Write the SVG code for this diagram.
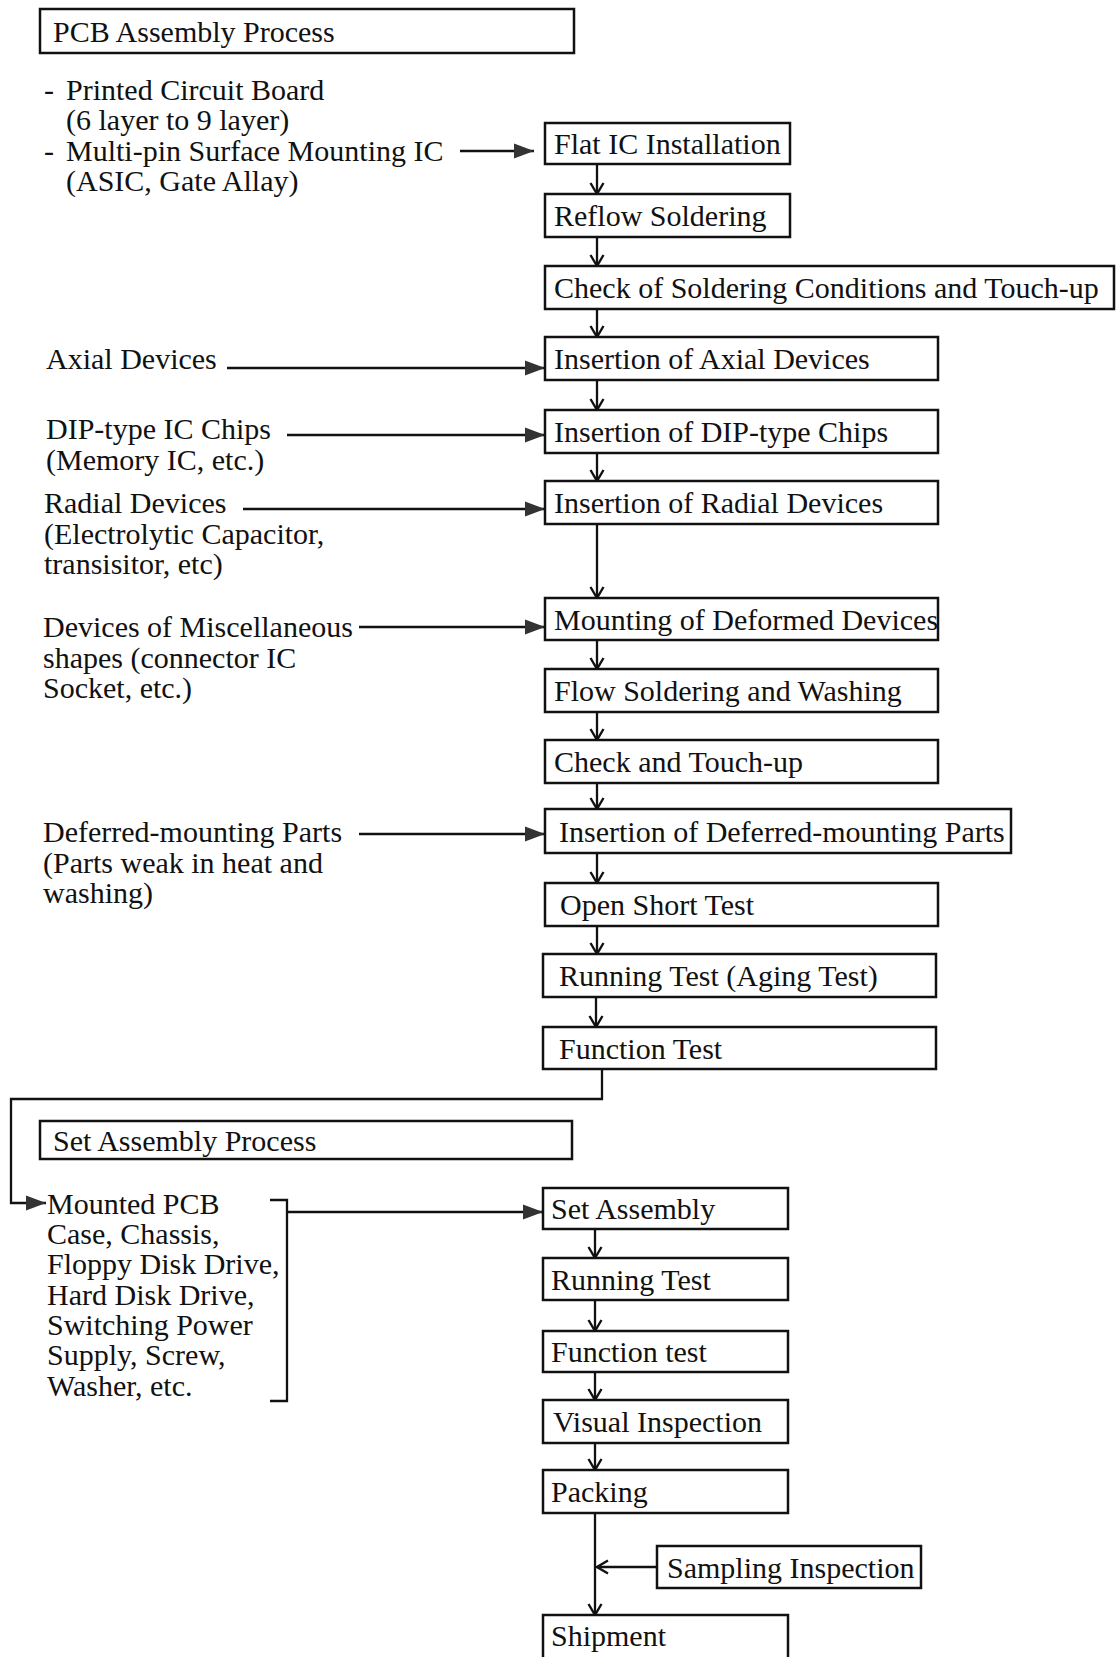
<svg xmlns="http://www.w3.org/2000/svg" width="1118" height="1657" viewBox="0 0 1118 1657">
<defs>
<style>
text{font-family:"Liberation Serif","Times New Roman",serif;font-size:30px;fill:#111}
.box{fill:#fff;stroke:#111;stroke-width:2.5}
.ln{fill:none;stroke:#111;stroke-width:2.3}
</style>
<marker id="tri" markerUnits="userSpaceOnUse" markerWidth="21" markerHeight="17" refX="20" refY="8.5" orient="auto"><path d="M0,1 L20,8.5 L0,16 z" fill="#333"/></marker>
<marker id="vee" markerUnits="userSpaceOnUse" markerWidth="16" markerHeight="16" refX="14" refY="8" orient="auto"><path d="M3,1.5 L14,8 L3,14.5" fill="none" stroke="#111" stroke-width="2.4"/></marker>
</defs>

<g id="connectors">
<!-- inputs -->
<line class="ln" x1="460" y1="151" x2="534" y2="151" marker-end="url(#tri)"/>
<line class="ln" x1="227" y1="368" x2="545" y2="368" marker-end="url(#tri)"/>
<line class="ln" x1="287" y1="435" x2="545" y2="435" marker-end="url(#tri)"/>
<line class="ln" x1="243" y1="509" x2="545" y2="509" marker-end="url(#tri)"/>
<line class="ln" x1="359" y1="627" x2="545" y2="627" marker-end="url(#tri)"/>
<line class="ln" x1="359" y1="834" x2="545" y2="834" marker-end="url(#tri)"/>
<!-- upper spine -->
<line class="ln" x1="597" y1="164" x2="597" y2="194" marker-end="url(#vee)"/>
<line class="ln" x1="597" y1="237" x2="597" y2="266" marker-end="url(#vee)"/>
<line class="ln" x1="597" y1="309" x2="597" y2="337" marker-end="url(#vee)"/>
<line class="ln" x1="597" y1="380" x2="597" y2="410" marker-end="url(#vee)"/>
<line class="ln" x1="597" y1="453" x2="597" y2="481" marker-end="url(#vee)"/>
<line class="ln" x1="597" y1="524" x2="597" y2="598" marker-end="url(#vee)"/>
<line class="ln" x1="597" y1="640" x2="597" y2="669" marker-end="url(#vee)"/>
<line class="ln" x1="597" y1="712" x2="597" y2="740" marker-end="url(#vee)"/>
<line class="ln" x1="597" y1="783" x2="597" y2="809" marker-end="url(#vee)"/>
<line class="ln" x1="597" y1="853" x2="597" y2="883" marker-end="url(#vee)"/>
<line class="ln" x1="597" y1="926" x2="597" y2="954" marker-end="url(#vee)"/>
<line class="ln" x1="596" y1="997" x2="596" y2="1027" marker-end="url(#vee)"/>
<!-- loop to set assembly -->
<path class="ln" d="M602,1069 V1099 H11 V1203 H46" marker-end="url(#tri)"/>
<!-- bracket -->
<path class="ln" d="M270,1200 H287 V1401 H270"/>
<line class="ln" x1="287" y1="1212" x2="543" y2="1212" marker-end="url(#tri)"/>
<!-- lower spine -->
<line class="ln" x1="595" y1="1229" x2="595" y2="1258" marker-end="url(#vee)"/>
<line class="ln" x1="595" y1="1300" x2="595" y2="1331" marker-end="url(#vee)"/>
<line class="ln" x1="595" y1="1372" x2="595" y2="1400" marker-end="url(#vee)"/>
<line class="ln" x1="595" y1="1443" x2="595" y2="1470" marker-end="url(#vee)"/>
<line class="ln" x1="595" y1="1513" x2="595" y2="1615" marker-end="url(#vee)"/>
<line class="ln" x1="657" y1="1567" x2="597" y2="1567" marker-end="url(#vee)"/>
</g>

<g id="pcb-title"><rect class="box" x="40" y="9" width="534" height="44"/><text x="53" y="42">PCB Assembly Process</text></g>

<g id="pcb-inputs">
<text x="44" y="100">-<tspan x="66">Printed Circuit Board</tspan></text>
<text x="66" y="130">(6 layer to 9 layer)</text>
<text x="44" y="161">-<tspan x="66">Multi-pin Surface Mounting IC</tspan></text>
<text x="66" y="191">(ASIC, Gate Allay)</text>
</g>
<g id="in-axial"><text x="46" y="369">Axial Devices</text></g>
<g id="in-dip"><text x="46" y="439">DIP-type IC Chips</text><text x="46" y="470">(Memory IC, etc.)</text></g>
<g id="in-radial"><text x="44" y="513">Radial Devices</text><text x="44" y="544">(Electrolytic Capacitor,</text><text x="44" y="574">transisitor, etc)</text></g>
<g id="in-misc"><text x="43" y="637">Devices of Miscellaneous</text><text x="43" y="668">shapes (connector IC</text><text x="43" y="698">Socket, etc.)</text></g>
<g id="in-deferred"><text x="43" y="842">Deferred-mounting Parts</text><text x="43" y="873">(Parts weak in heat and</text><text x="43" y="903">washing)</text></g>

<g id="n-flat"><rect class="box" x="545" y="123" width="245" height="41"/><text x="554" y="154">Flat IC Installation</text></g>
<g id="n-reflow"><rect class="box" x="545" y="194" width="245" height="43"/><text x="554" y="226">Reflow Soldering</text></g>
<g id="n-check1"><rect class="box" x="545" y="266" width="569" height="43"/><text x="554" y="298">Check of Soldering Conditions and Touch-up</text></g>
<g id="n-axial"><rect class="box" x="545" y="337" width="393" height="43"/><text x="554" y="369">Insertion of Axial Devices</text></g>
<g id="n-dip"><rect class="box" x="545" y="410" width="393" height="43"/><text x="554" y="442">Insertion of DIP-type Chips</text></g>
<g id="n-radial"><rect class="box" x="545" y="481" width="393" height="43"/><text x="554" y="513">Insertion of Radial Devices</text></g>
<g id="n-mount"><rect class="box" x="545" y="598" width="393" height="42"/><text x="554" y="630">Mounting of Deformed Devices</text></g>
<g id="n-flow"><rect class="box" x="545" y="669" width="393" height="43"/><text x="554" y="701">Flow Soldering and Washing</text></g>
<g id="n-check2"><rect class="box" x="545" y="740" width="393" height="43"/><text x="554" y="772">Check and Touch-up</text></g>
<g id="n-deferred"><rect class="box" x="545" y="809" width="466" height="44"/><text x="559" y="842">Insertion of Deferred-mounting Parts</text></g>
<g id="n-open"><rect class="box" x="545" y="883" width="393" height="43"/><text x="560" y="915">Open Short Test</text></g>
<g id="n-running1"><rect class="box" x="543" y="954" width="393" height="43"/><text x="559" y="986">Running Test (Aging Test)</text></g>
<g id="n-function1"><rect class="box" x="543" y="1027" width="393" height="42"/><text x="559" y="1059">Function Test</text></g>

<g id="set-title"><rect class="box" x="40" y="1121" width="532" height="38"/><text x="53" y="1151">Set Assembly Process</text></g>

<g id="set-inputs">
<text x="47" y="1214">Mounted PCB</text>
<text x="47" y="1244">Case,  Chassis,</text>
<text x="47" y="1274">Floppy Disk Drive,</text>
<text x="47" y="1305">Hard Disk Drive,</text>
<text x="47" y="1335">Switching Power</text>
<text x="47" y="1365">Supply,  Screw,</text>
<text x="47" y="1396">Washer, etc.</text>
</g>

<g id="n-set"><rect class="box" x="543" y="1188" width="245" height="41"/><text x="551" y="1219">Set Assembly</text></g>
<g id="n-running2"><rect class="box" x="543" y="1258" width="245" height="42"/><text x="551" y="1290">Running Test</text></g>
<g id="n-function2"><rect class="box" x="543" y="1331" width="245" height="41"/><text x="551" y="1362">Function test</text></g>
<g id="n-visual"><rect class="box" x="543" y="1400" width="245" height="43"/><text x="553" y="1432">Visual Inspection</text></g>
<g id="n-packing"><rect class="box" x="543" y="1470" width="245" height="43"/><text x="551" y="1502">Packing</text></g>
<g id="n-sampling"><rect class="box" x="657" y="1546" width="264" height="42"/><text x="667" y="1578">Sampling Inspection</text></g>
<g id="n-shipment"><rect class="box" x="543" y="1615" width="245" height="60"/><text x="551" y="1646">Shipment</text></g>
</svg>
